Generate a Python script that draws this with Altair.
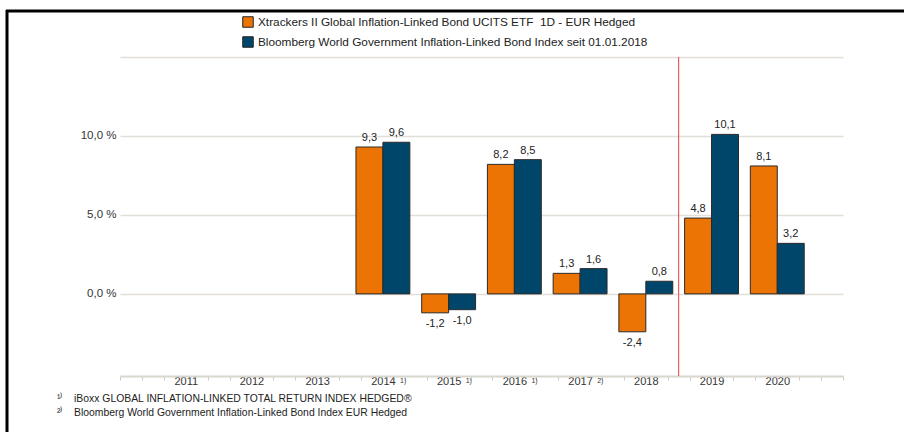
import altair as alt
import pandas as pd

# ---------------- data ----------------
years = [2014, 2015, 2016, 2017, 2018, 2019, 2020]
etf_values = [9.3, -1.2, 8.2, 1.3, -2.4, 4.8, 8.1]
index_values = [9.6, -1.0, 8.5, 1.6, 0.8, 10.1, 3.2]
series_names = [
    "Xtrackers II Global Inflation-Linked Bond UCITS ETF\u00a0 1D - EUR Hedged",
    "Bloomberg World Government Inflation-Linked Bond Index seit 01.01.2018",
]
series_colors = ["#EC7404", "#00466B"]
footnote_years = [2014, 2015, 2016, 2017]
footnote_marks = ["1)", "1)", "1)", "2)"]
footnote_lines = [
    "\u00b9\u207e\u00a0\u00a0\u00a0 iBoxx GLOBAL INFLATION-LINKED TOTAL RETURN INDEX HEDGED\u00ae",
    "\u00b2\u207e\u00a0\u00a0\u00a0 Bloomberg World Government Inflation-Linked Bond Index EUR Hedged",
]
marker_year = [2018.5]
y_grid_values = [0, 5, 10, 15]
x_domain = [2010, 2021]
y_domain = [-5.2, 15]

# ---------------- layout constants ----------------
BAR_W = 0.41
FONT = "Liberation Sans"

rows = []
for i, y in enumerate(years):
    rows.append({"series": series_names[0], "year": y, "value": etf_values[i], "xa": y - BAR_W, "xb": y})
    rows.append({"series": series_names[1], "year": y, "value": index_values[i], "xa": y, "xb": y + BAR_W})
df = pd.DataFrame(rows)
df["xc"] = (df["xa"] + df["xb"]) / 2
df["label"] = df["value"].map(lambda v: f"{v:.1f}".replace(".", ","))

fn_df = pd.DataFrame({"year": footnote_years, "mark": footnote_marks})
fn_df["fx"] = fn_df["year"] + 0.26

x_tick_values = [round(2010 + k / 3, 4) for k in range(34)]
is_label = "(abs(datum.value - round(datum.value)) < 0.01 && datum.value > 2010.5 && datum.value < 2020.5)"

xscale = alt.Scale(domain=x_domain, nice=False, zero=False)
yscale = alt.Scale(domain=y_domain, nice=False, zero=False)

x_axis = alt.Axis(
    values=x_tick_values,
    labelExpr=f"{is_label} ? format(round(datum.value), 'd') : ''",
    tickOpacity={"condition": {"test": is_label, "value": 0}, "value": 1},
    grid=False,
    domainColor="#d8d5cd",
    domainWidth=2,
    tickColor="#cfccc4",
    tickWidth=1,
    tickSize=4,
    labelFontSize=11,
    labelFont=FONT,
    labelColor="#333333",
    labelPadding=-5,
    labelOverlap=False,
    labelFlush=False,
    labelBound=False,
    title=None,
)
y_axis = alt.Axis(
    values=y_grid_values,
    labelExpr="datum.value > 12 ? '' : replace(format(datum.value, '.1f'), '.', ',') + ' %'",
    domain=False,
    ticks=False,
    gridColor="#e2dfd8",
    gridWidth=1.5,
    labelFontSize=11.5,
    labelFont=FONT,
    labelColor="#333333",
    labelPadding=4,
    labelOverlap=False,
    title=None,
)

X = lambda f: alt.X(f, scale=xscale, axis=x_axis)
Y = lambda f: alt.Y(f, scale=yscale, axis=y_axis)

base = alt.Chart(df)

bars = base.mark_bar(stroke="#2a2a2a", strokeWidth=1).encode(
    x=X("xa:Q"),
    x2="xb:Q",
    y=Y("value:Q"),
    y2=alt.datum(0),
    color=alt.Color(
        "series:N",
        scale=alt.Scale(domain=series_names, range=series_colors),
        legend=alt.Legend(
            orient="none",
            legendX=122,
            legendY=-41,
            title=None,
            symbolType="square",
            symbolSize=110,
            symbolStrokeColor="#222222",
            symbolStrokeWidth=1,
            labelFontSize=11.8,
            labelFont=FONT,
            labelColor="#222222",
            rowPadding=4,
            labelLimit=700,
        ),
    ),
)

pos_text = base.transform_filter("datum.value >= 0").mark_text(
    baseline="bottom", dy=-4, fontSize=11, color="#222222", font=FONT
).encode(x=X("xc:Q"), y=Y("value:Q"), text="label:N")

neg_text = base.transform_filter("datum.value < 0").mark_text(
    baseline="top", dy=5, fontSize=11, color="#222222", font=FONT
).encode(x=X("xc:Q"), y=Y("value:Q"), text="label:N")

red_line = alt.Chart(pd.DataFrame({"x": marker_year})).mark_rule(color="#e5413b", strokeWidth=1).encode(
    x=X("x:Q")
)

fn_marks = alt.Chart(fn_df).mark_text(
    align="left", baseline="top", dy=1, fontSize=7, color="#333333", font=FONT
).encode(x=X("fx:Q"), y=alt.datum(y_domain[0]), text="mark:N")

frame_src = pd.DataFrame({"a": [0]})
frame_top = alt.Chart(frame_src).mark_rule(color="black", strokeWidth=3).encode(
    x=alt.value(-114), x2=alt.value(784), y=alt.value(-46)
)
frame_left = alt.Chart(frame_src).mark_rule(color="black", strokeWidth=3).encode(
    x=alt.value(-113), y=alt.value(-47), y2=alt.value(380)
)

chart = alt.layer(red_line, bars, pos_text, neg_text, fn_marks, frame_top, frame_left).properties(
    width=723,
    height=319,
    autosize=alt.AutoSizeParams(type="none"),
    padding={"left": 120, "top": 57, "right": 61, "bottom": 56},
    title=alt.TitleParams(
        text=footnote_lines,
        orient="bottom",
        anchor="start",
        frame="group",
        dx=-63,
        offset=-45,
        fontSize=10.4,
        fontWeight="normal",
        font=FONT,
        color="#222222",
        lineHeight=14,
    ),
).configure(
    font=FONT, background="white", view=alt.ViewConfig(stroke=None, strokeWidth=0)
)

chart.save("out.html", embed_options={"renderer": "svg", "actions": False})
